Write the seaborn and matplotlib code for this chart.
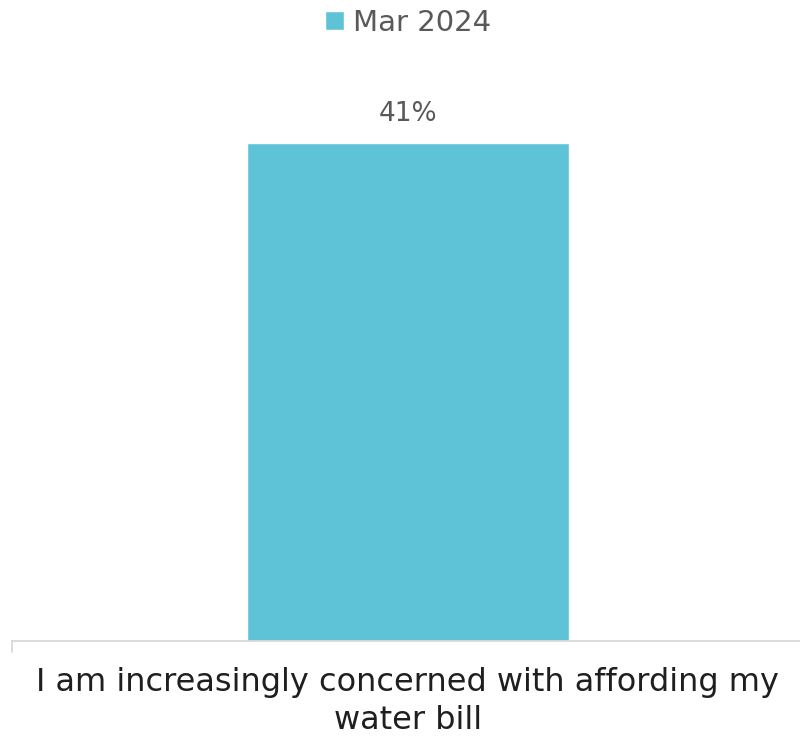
import matplotlib
matplotlib.use("Agg")
import matplotlib.pyplot as plt
import seaborn as sns
import pandas as pd

categories = ["I am increasingly concerned with affording my\nwater bill"]
series_name = "Mar 2024"
values = [41]

df = pd.DataFrame({"statement": categories, "pct": values, "wave": [series_name] * len(values)})

sns.set_theme(style="white")
plt.rcParams["font.family"] = ["DejaVu Sans"]

text_color = "#595959"
label_color = "#1f1f1f"
bar_color = "#5FC3D8"
axis_color = "#D9D9D9"

fig = plt.figure(figsize=(8.0, 7.38), dpi=100)
ax = fig.add_axes([12 / 800, 97 / 738, 788 / 800, 607 / 738])

sns.barplot(data=df, x="statement", y="pct", hue="wave", palette=[bar_color],
            width=0.408, ax=ax, legend=True, saturation=1)

ax.set_xlim(-0.5025, 0.4975)
ax.set_ylim(0, 50)
ax.set_xlabel("")
ax.set_ylabel("")
ax.set_yticks([])

for side in ["top", "right", "left"]:
    ax.spines[side].set_visible(False)
ax.spines["bottom"].set_color(axis_color)
ax.spines["bottom"].set_linewidth(1.3)

ax.tick_params(axis="x", length=0, pad=19, labelsize=23, labelcolor=label_color)
for lbl in ax.get_xticklabels():
    lbl.set_linespacing(1.27)
# edge tick at the left end of the category axis
ax.plot([-0.5025, -0.5025], [0, -0.9], color=axis_color, lw=1.3, clip_on=False)

for container in ax.containers:
    ax.bar_label(container, labels=[f"{v}%" for v in values], padding=12,
                 fontsize=19, color=text_color)

handles, labels = ax.get_legend_handles_labels()
ax.get_legend().remove()
fig.legend(handles, labels, loc="center", bbox_to_anchor=(408 / 800, 1 - 23 / 738),
           frameon=False, fontsize=21, handlelength=0.65, handleheight=0.65,
           handletextpad=0.3, labelcolor=text_color, borderpad=0)

fig.savefig("out.png", dpi=100)
